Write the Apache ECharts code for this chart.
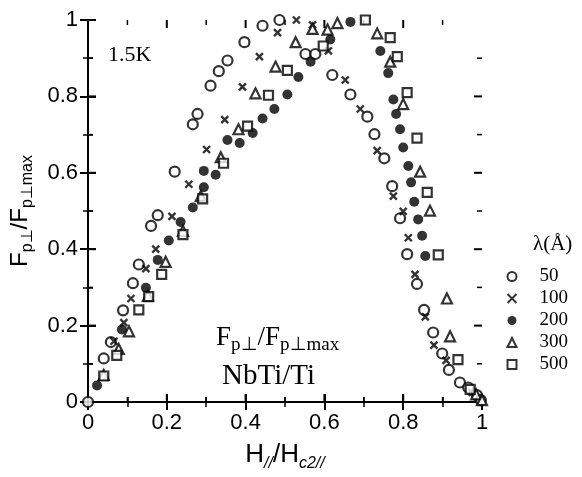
<!DOCTYPE html>
<html>
<head>
<meta charset="utf-8">
<script src="https://cdn.jsdelivr.net/npm/echarts@6/dist/echarts.min.js"></script>
<style>
  html, body { margin: 0; padding: 0; background: #fff; }
  #chart { width: 582px; height: 477px; }
</style>
</head>
<body>
<div id="chart"></div>
<script>
// lambda (Angstrom) of each data set
const lambdas = ["50", "100", "200", "300", "500"];

// [H///Hc2//, Fp/Fpmax]
const lam50 = [
  [0, 0], [0.04, 0.114], [0.058, 0.157], [0.089, 0.24], [0.114, 0.311], [0.129, 0.36],
  [0.16, 0.461], [0.177, 0.489], [0.22, 0.603], [0.266, 0.727], [0.278, 0.754],
  [0.311, 0.828], [0.332, 0.866], [0.354, 0.894], [0.397, 0.942], [0.443, 0.985],
  [0.486, 1.0], [0.552, 0.911], [0.577, 0.911], [0.62, 0.856], [0.666, 0.805],
  [0.709, 0.747], [0.727, 0.701], [0.752, 0.638], [0.772, 0.565], [0.792, 0.481],
  [0.81, 0.387], [0.835, 0.309], [0.853, 0.241], [0.876, 0.182], [0.899, 0.127],
  [0.916, 0.084], [0.944, 0.051], [0.965, 0.038], [0.987, 0.018], [0.997, 0.005]
];
const lam100 = [
  [0.066, 0.159], [0.091, 0.208], [0.109, 0.271], [0.147, 0.349], [0.172, 0.4],
  [0.213, 0.486], [0.256, 0.57], [0.301, 0.661], [0.347, 0.739], [0.392, 0.825],
  [0.435, 0.904], [0.481, 0.967], [0.529, 1.0], [0.57, 0.987], [0.61, 0.919],
  [0.653, 0.843], [0.691, 0.767], [0.734, 0.658], [0.775, 0.539], [0.8, 0.499],
  [0.813, 0.43], [0.83, 0.334], [0.856, 0.223], [0.878, 0.149], [0.909, 0.109],
  [0.975, 0.025]
];
const lam200 = [
  [0.023, 0.043], [0.086, 0.19], [0.147, 0.299], [0.177, 0.372], [0.205, 0.423],
  [0.235, 0.471], [0.266, 0.509], [0.294, 0.562], [0.294, 0.605], [0.324, 0.595],
  [0.354, 0.686], [0.385, 0.678], [0.418, 0.704], [0.443, 0.742], [0.473, 0.767],
  [0.506, 0.805], [0.534, 0.851], [0.565, 0.891], [0.615, 0.949], [0.666, 0.995],
  [0.742, 0.919], [0.762, 0.861], [0.775, 0.792], [0.782, 0.754], [0.792, 0.714],
  [0.8, 0.666], [0.813, 0.618], [0.82, 0.575], [0.828, 0.524], [0.838, 0.478],
  [0.848, 0.435], [0.856, 0.382]
];
const lam300 = [
  [0.04, 0.071], [0.078, 0.139], [0.104, 0.185], [0.152, 0.278], [0.197, 0.367],
  [0.241, 0.448], [0.286, 0.539], [0.337, 0.641], [0.382, 0.714], [0.425, 0.808],
  [0.476, 0.878], [0.527, 0.942], [0.57, 0.977], [0.608, 0.975], [0.633, 0.992],
  [0.734, 0.965], [0.767, 0.891], [0.8, 0.78], [0.843, 0.603], [0.868, 0.501],
  [0.911, 0.271], [0.919, 0.172], [0.985, 0.02], [1.0, 0.005]
];
const lam500 = [
  [0.04, 0.068], [0.073, 0.122], [0.129, 0.241], [0.154, 0.276], [0.187, 0.334],
  [0.241, 0.438], [0.291, 0.532], [0.344, 0.625], [0.405, 0.722], [0.458, 0.803],
  [0.506, 0.868], [0.597, 0.932], [0.704, 1.0], [0.767, 0.954], [0.785, 0.904],
  [0.81, 0.81], [0.835, 0.691], [0.861, 0.549], [0.889, 0.385], [0.939, 0.111],
  [0.97, 0.033]
];
// inner tick marks (major every 0.2, minor in between)
const tickMarks = [0.1, 0.2, 0.3, 0.4, 0.5, 0.6, 0.7, 0.8, 0.9];

const SANS = "Liberation Sans, Arial, sans-serif";
const SERIF = "Liberation Serif, Times New Roman, serif";
const CROSS = "path://M0,0L10,10M10,0L0,10";

const chart = echarts.init(document.getElementById("chart"));

function boxAxis(pos, showLabel, extra) {
  return Object.assign({
    type: "value",
    position: pos,
    min: 0,
    max: 1,
    interval: 0.2,
    axisLine: { show: true, lineStyle: { color: "#000", width: 2 } },
    axisTick: { show: true, inside: true, length: 8, lineStyle: { color: "#000", width: 2 } },
    minorTick: { show: true, splitNumber: 2, length: 5, lineStyle: { color: "#000", width: 1.5 } },
    splitLine: { show: false },
    axisLabel: {
      show: showLabel,
      color: "#000",
      fontFamily: SANS,
      fontSize: 22,
      margin: 10
    }
  }, extra || {});
}

const symbolStyles = {
  "50": { symbol: "circle", symbolSize: 10, itemStyle: { color: "#fff", borderColor: "#000", borderWidth: 2.2 } },
  "100": { symbol: CROSS, symbolSize: 7, itemStyle: { color: "none", borderColor: "#000", borderWidth: 2.4 } },
  "200": { symbol: "circle", symbolSize: 10, itemStyle: { color: "#000", borderColor: "#000", borderWidth: 0 } },
  "300": { symbol: "triangle", symbolSize: 10, itemStyle: { color: "#fff", borderColor: "#000", borderWidth: 2.2 } },
  "500": { symbol: "rect", symbolSize: 9, itemStyle: { color: "#fff", borderColor: "#000", borderWidth: 2.2 } }
};
const seriesData = [lam50, lam100, lam200, lam300, lam500];

const labelGraphics = [
  { type: "text", left: 108, top: 44, style: { text: "1.5K", font: "22px " + SERIF, fill: "#000" } },
  {
    type: "text",
    left: 216,
    top: 324,
    style: {
      text: "{a|F}{s|p⊥}{a|/F}{s|p⊥max}",
      rich: {
        a: { fontFamily: SERIF, fontSize: 27, fill: "#000", verticalAlign: "bottom", padding: [0, 0, 4, 0] },
        s: { fontFamily: SERIF, fontSize: 19, fill: "#000", verticalAlign: "bottom" }
      }
    }
  },
  { type: "text", left: 222, top: 362, style: { text: "NbTi/Ti", font: "29px " + SERIF, fill: "#000" } }
];

chart.setOption({
  animation: false,
  grid: { left: 87, right: 100, top: 20, bottom: 61 },
  title: {
    text: "λ(Å)",
    left: 528,
    top: 229,
    textStyle: { fontFamily: SERIF, fontSize: 21, fontWeight: "normal", color: "#000" }
  },
  legend: {
    orient: "vertical",
    left: 500,
    top: 262,
    itemWidth: 9,
    itemHeight: 9,
    itemGap: 3,
    data: lambdas,
    textStyle: { fontFamily: SERIF, fontSize: 19, color: "#000", padding: [0, 0, 0, 18] }
  },
  xAxis: [
    boxAxis("bottom", true, {
      name: "{a|H}{s|//}{a|/H}{s|c2//}",
      nameLocation: "middle",
      nameGap: 40,
      nameTextStyle: {
        color: "#000",
        rich: {
          a: { fontFamily: SANS, fontSize: 26, color: "#000", verticalAlign: "bottom", padding: [0, 0, 4, 0] },
          s: { fontFamily: SANS, fontSize: 16, color: "#000", fontStyle: "italic", verticalAlign: "bottom" }
        }
      }
    }),
    boxAxis("top", false)
  ],
  yAxis: [
    boxAxis("left", true, {
      name: "{a|F}{s|p⊥}{a|/F}{s|p⊥max}",
      nameLocation: "middle",
      nameGap: 52,
      nameTextStyle: {
        color: "#000",
        rich: {
          a: { fontFamily: SANS, fontSize: 24, color: "#000", verticalAlign: "bottom", padding: [0, 0, 4, 0] },
          s: { fontFamily: SANS, fontSize: 16, color: "#000", verticalAlign: "bottom" }
        }
      }
    }),
    boxAxis("right", false)
  ],
  graphic: labelGraphics,
  series: lambdas.map((name, i) => Object.assign({
    name: name,
    type: "scatter",
    data: seriesData[i],
    z: 3
  }, symbolStyles[name]))
});

// inward ticks on all four sides, placed through the axis scales
const x0 = chart.convertToPixel({ xAxisIndex: 0 }, 0);
const x1 = chart.convertToPixel({ xAxisIndex: 0 }, 1);
const y0 = chart.convertToPixel({ yAxisIndex: 0 }, 0);
const y1 = chart.convertToPixel({ yAxisIndex: 0 }, 1);
const tickLines = [];
tickMarks.forEach((v, i) => {
  const len = i % 2 === 1 ? 8 : 5;
  const w = i % 2 === 1 ? 2 : 1.5;
  const px = chart.convertToPixel({ xAxisIndex: 0 }, v);
  const py = chart.convertToPixel({ yAxisIndex: 0 }, v);
  tickLines.push(
    { type: "line", shape: { x1: px, y1: y0, x2: px, y2: y0 - len }, style: { stroke: "#000", lineWidth: w } },
    { type: "line", shape: { x1: px, y1: y1, x2: px, y2: y1 + len }, style: { stroke: "#000", lineWidth: w } },
    { type: "line", shape: { x1: x0, y1: py, x2: x0 + len, y2: py }, style: { stroke: "#000", lineWidth: w } },
    { type: "line", shape: { x1: x1, y1: py, x2: x1 - len, y2: py }, style: { stroke: "#000", lineWidth: w } }
  );
});
chart.setOption({ graphic: labelGraphics.concat(tickLines) });
</script>
</body>
</html>
